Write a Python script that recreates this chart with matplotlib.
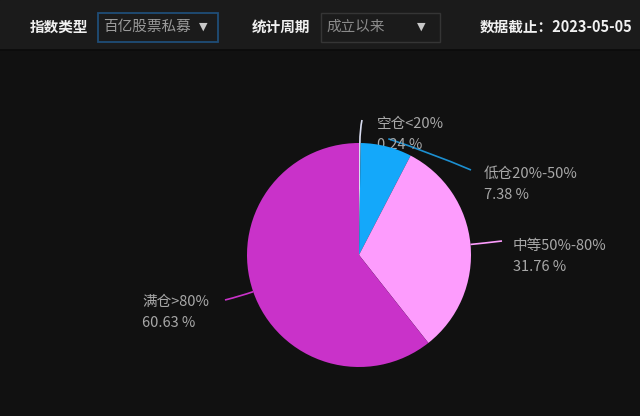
import numpy as np
import matplotlib
matplotlib.use("Agg")
import matplotlib.pyplot as plt
from matplotlib.patches import Rectangle, PathPatch
from matplotlib.path import Path

plt.rcParams['font.family'] = ['Noto Sans CJK SC', 'DejaVu Sans']

# data
labels = ["空仓<20%", "低仓20%-50%", "中等50%-80%", "满仓>80%"]
shares = [0.24, 7.38, 31.76, 60.63]
colors = ["#d8dcf0", "#14a8fa", "#fd9cfd", "#c932c9"]

index_type = "百亿股票私募"
period = "成立以来"
as_of = "2023-05-05"

W, H = 640, 416
fig = plt.figure(figsize=(W / 100, H / 100), dpi=100, facecolor="#111111")

# overlay in pixel coords
ov = fig.add_axes([0, 0, 1, 1])
ov.set_xlim(0, W)
ov.set_ylim(H, 0)
ov.axis("off")

# header
ov.add_patch(Rectangle((0, 0), W, 49, color="#1b1b1b", zorder=0))
ov.plot([0, W], [49.5, 49.5], color="#0b0b0b", lw=1.2)
ov.text(30, 27, "指数类型", color="#f0f0f0", fontsize=10.5, fontweight="bold", va="center")
ov.add_patch(Rectangle((97.5, 12.5), 120, 29, fill=False, ec="#1f4d78", lw=1.3))
ov.text(103, 27, index_type, color="#9a9a9a", fontsize=10.5, va="center")
ov.text(199, 27, "▼", color="#c8c8c8", fontsize=8, va="center", family="DejaVu Sans")
ov.text(252, 27, "统计周期", color="#f0f0f0", fontsize=10.5, fontweight="bold", va="center")
ov.add_patch(Rectangle((320.5, 12.5), 119, 29, fill=False, ec="#353535", lw=1.0))
ov.text(326, 27, period, color="#8a8a8a", fontsize=10.5, va="center")
ov.text(417, 27, "▼", color="#c8c8c8", fontsize=8, va="center", family="DejaVu Sans")
ov.text(480, 27, "数据截止：" + as_of, color="#f0f0f0", fontsize=10.5, fontweight="bold", va="center")

# pie
cx, cy, R = 359, 255, 112
pax = fig.add_axes([(cx - R) / W, (H - cy - R) / H, 2 * R / W, 2 * R / H])
wedges, _ = pax.pie(shares, colors=colors, startangle=90, counterclock=False,
                    radius=1, wedgeprops=dict(linewidth=0))
pax.set_xlim(-1, 1)
pax.set_ylim(-1, 1)
pax.axis("off")

# leader lines and labels
ends = [(362, 120), (471, 170), (502, 241), (225, 300)]
text_pos = [(377, 124), (484, 174), (513, 246), (142, 302)]
start_r = [1.0, 1.07, 1.0, 1.0]
for w, lab, val, col, (ex, ey), (tx, ty), sr in zip(wedges, labels, shares, colors, ends, text_pos, start_r):
    mid = np.deg2rad((w.theta1 + w.theta2) / 2)
    sx = cx + R * sr * np.cos(mid)
    sy = cy - R * sr * np.sin(mid)
    kx = cx + R * 1.12 * np.cos(mid)
    ky = cy - R * 1.12 * np.sin(mid)
    if lab.startswith("低仓"):
        kx, ky = (sx + ex) / 2, (sy + ey) / 2 - 2
    path = Path([(sx, sy), (kx, ky), (ex, ey)], [Path.MOVETO, Path.CURVE3, Path.CURVE3])
    lc = "#1c8fd0" if lab.startswith("低仓") else col
    ov.add_patch(PathPatch(path, fill=False, ec=lc, lw=1.2, zorder=3))
    ov.text(tx, ty, lab, color="#a8a8a8", fontsize=10.5, va="center", zorder=4)
    ov.text(tx, ty + 21, f"{val:.2f} %", color="#a8a8a8", fontsize=10.5, va="center", zorder=4)

fig.savefig("out.png", dpi=100, facecolor=fig.get_facecolor())
